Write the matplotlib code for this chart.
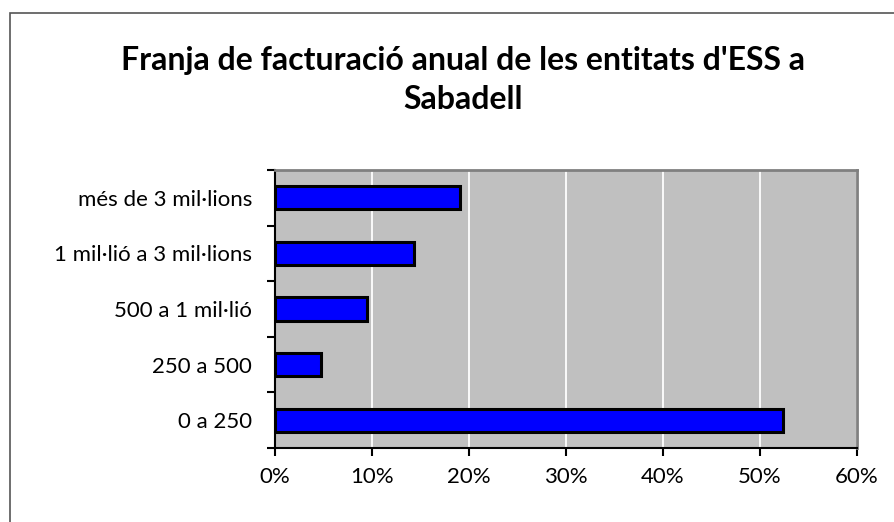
import matplotlib
matplotlib.use("Agg")
import matplotlib.pyplot as plt
import numpy as np
from matplotlib.patches import Rectangle
from matplotlib.ticker import FuncFormatter, FixedLocator

categories = ["0 a 250", "250 a 500", "500 a 1 mil·lió", "1 mil·lió a 3 mil·lions", "més de 3 mil·lions"]
values = [52.4, 4.76, 9.52, 14.29, 19.05]
xticks = [0, 10, 20, 30, 40, 50, 60]
title = "Franja de facturació anual de les entitats d'ESS a\nSabadell"

plt.rcParams['font.family'] = ['Lato', 'DejaVu Sans']

W, H = 895, 522
fig = plt.figure(figsize=(W / 100, H / 100), dpi=100)
fig.patches.append(Rectangle((10 / W, -0.1), 1.2, 1 - 13 / H + 0.1, transform=fig.transFigure,
                             fill=False, edgecolor='#555555', linewidth=1.2))

ax = fig.add_axes([275 / W, 1 - 448 / H, (857 - 275) / W, (448 - 170) / H])
ax.set_facecolor('#C0C0C0')
y = np.arange(len(categories))
ax.barh(y, values, height=0.42, color='#0000FF', edgecolor='black', linewidth=2.2, zorder=3)
ax.set_xlim(0, 60)
ax.set_ylim(-0.5, len(categories) - 0.5)
ax.set_xticks(xticks)
ax.xaxis.set_major_formatter(FuncFormatter(lambda v, p: f"{int(v)}%"))
ax.grid(axis='x', color='white', linewidth=1.3, zorder=1)
ax.set_yticks(y)
ax.set_yticklabels(categories)
ax.yaxis.set_minor_locator(FixedLocator(np.arange(-0.5, len(categories), 1.0)))
ax.tick_params(axis='y', which='major', length=0, pad=16.5, labelsize=16)
ax.tick_params(axis='y', which='minor', length=6, width=1.5, color='black')
ax.tick_params(axis='x', which='major', length=6, width=1.5, pad=8, labelsize=16)
for s in ['left', 'bottom']:
    ax.spines[s].set_color('black')
    ax.spines[s].set_linewidth(1.5)
for s in ['top', 'right']:
    ax.spines[s].set_color('#808080')
    ax.spines[s].set_linewidth(2)

fig.text(463 / W, 1 - 80 / H, title, ha='center', va='center', fontsize=23,
         fontweight='bold', linespacing=1.45)

fig.savefig("out.png", dpi=100)
